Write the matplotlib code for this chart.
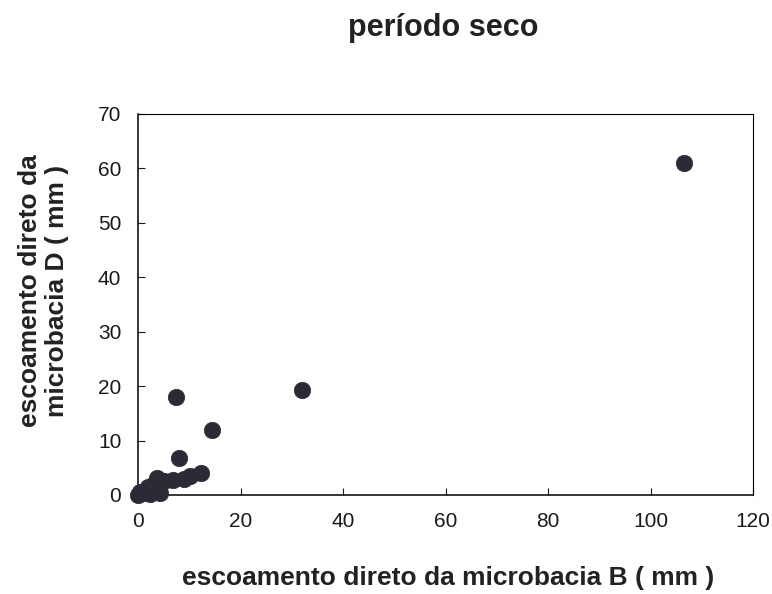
import matplotlib

matplotlib.use("Agg")
import matplotlib.pyplot as plt

plt.rcParams["font.family"] = ["Liberation Sans", "DejaVu Sans"]

# escoamento direto (mm) por evento, microbacia B (x) vs microbacia D (y)
esc_b = [0.0, 0.4, 1.0, 1.6, 2.0, 2.3, 2.9, 3.4, 3.7, 4.3,
         5.0, 6.9, 8.0, 9.0, 10.1, 12.3, 7.4, 14.5, 32.0, 106.5]
esc_d = [0.0, 0.6, 0.3, 0.9, 1.5, 0.1, 0.5, 2.2, 3.1, 0.3,
         2.6, 2.8, 6.8, 3.0, 3.4, 4.0, 18.0, 12.0, 19.3, 61.0]

x_ticks = [0, 20, 40, 60, 80, 100, 120]
y_ticks = [0, 10, 20, 30, 40, 50, 60, 70]

fig = plt.figure(figsize=(7.72, 5.94), dpi=100)
ax = fig.add_axes([0.1788, 0.1667, 0.7966, 0.6414])

ax.scatter(esc_b, esc_d, s=140, color="#2b2b36", edgecolors="#2b2b36",
           linewidths=0.5, zorder=3, clip_on=False)

ax.set_xlim(0, 120)
ax.set_ylim(0, 70)
ax.set_xticks(x_ticks)
ax.set_yticks(y_ticks)
ax.tick_params(direction="in", length=5, width=0.8, labelsize=15,
               colors="#1a1a1a")
ax.tick_params(axis="x", pad=12)
ax.tick_params(axis="y", pad=12)
for side in ("top", "right"):
    ax.spines[side].set_linewidth(0.8)
for side in ("left", "bottom"):
    ax.spines[side].set_linewidth(1.1)

fig.text(0.574, 0.953, "período seco", ha="center", va="center",
         fontsize=22, fontweight="bold", color="#222222")
fig.text(0.58, 0.027, "escoamento direto da microbacia B ( mm )",
         ha="center", va="center", fontsize=19, fontweight="bold",
         color="#222222")
fig.text(0.056, 0.51, "escoamento direto da\nmicrobacia D ( mm )",
         ha="center", va="center", rotation=90, fontsize=19,
         fontweight="bold", color="#222222", linespacing=1.15)

fig.savefig("out.png", dpi=100)
